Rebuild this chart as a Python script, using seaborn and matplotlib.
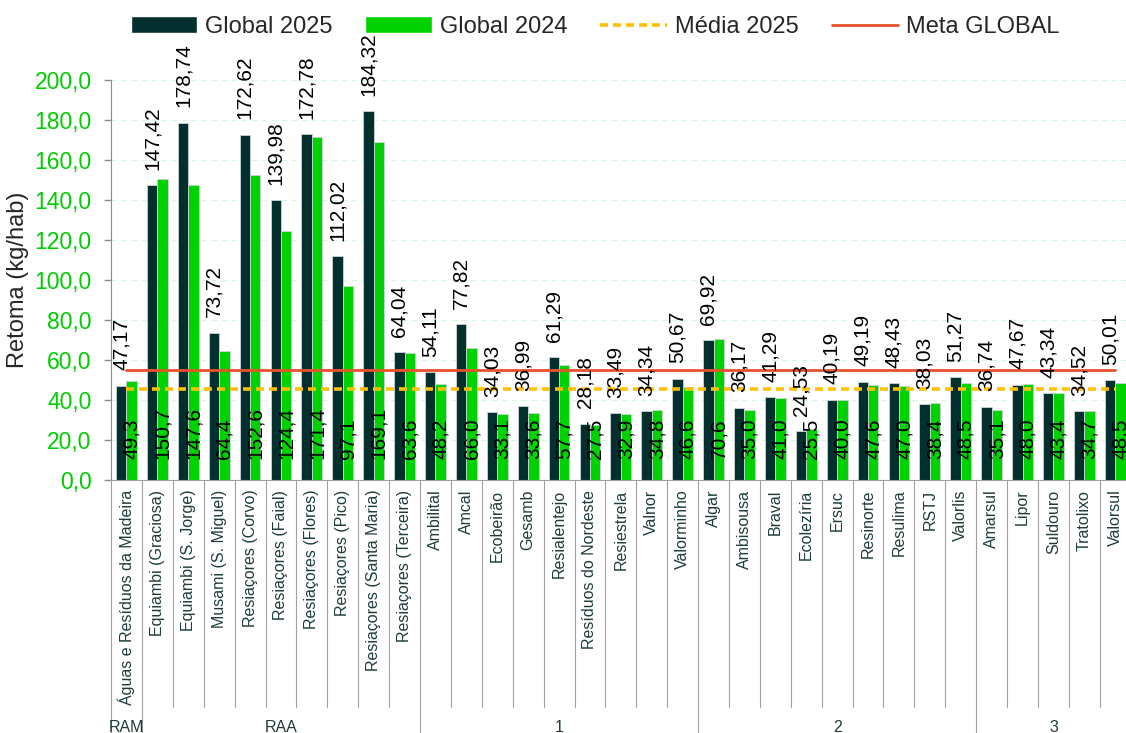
import numpy as np
import pandas as pd
import matplotlib
matplotlib.use('Agg')
import matplotlib.pyplot as plt
import matplotlib.transforms as mtrans
from matplotlib.lines import Line2D
from matplotlib.patches import Patch
import seaborn as sns

# dados
sistemas = ['Águas e Resíduos da Madeira',
            'Equiambi (Graciosa)', 'Equiambi (S. Jorge)', 'Musami (S. Miguel)',
            'Resiaçores (Corvo)', 'Resiaçores (Faial)', 'Resiaçores (Flores)',
            'Resiaçores (Pico)', 'Resiaçores (Santa Maria)', 'Resiaçores (Terceira)',
            'Ambilital', 'Amcal', 'Ecobeirão', 'Gesamb', 'Resialentejo',
            'Resíduos do Nordeste', 'Resiestrela', 'Valnor', 'Valorminho',
            'Algar', 'Ambisousa', 'Braval', 'Ecolezíria', 'Ersuc', 'Resinorte',
            'Resulima', 'RSTJ', 'Valorlis',
            'Amarsul', 'Lipor', 'Suldouro', 'Tratolixo', 'Valorsul']
grupos = ['RAM', 'RAA', '1', '2', '3']
n_por_grupo = [1, 9, 9, 9, 5]
global_2025 = [47.17, 147.42, 178.74, 73.72, 172.62, 139.98, 172.78, 112.02, 184.32, 64.04,
               54.11, 77.82, 34.03, 36.99, 61.29, 28.18, 33.49, 34.34, 50.67,
               69.92, 36.17, 41.29, 24.53, 40.19, 49.19, 48.43, 38.03, 51.27,
               36.74, 47.67, 43.34, 34.52, 50.01]
global_2024 = [49.3, 150.7, 147.6, 64.4, 152.6, 124.4, 171.4, 97.1, 169.1, 63.6,
               48.2, 66.0, 33.1, 33.6, 57.7, 27.5, 32.9, 34.8, 46.6,
               70.6, 35.0, 41.0, 25.5, 40.0, 47.6, 47.0, 38.4, 48.5,
               35.1, 48.0, 43.4, 34.7, 48.5]
media_2025 = 45.5
meta_global = 55.0

escuro = '#03302F'
verde = '#00D200'
amarelo = '#FFC000'
vermelho = '#E8522B'
texto = '#1E3C3C'

sns.set_style('white')
plt.rcParams['font.family'] = ['Liberation Sans', 'DejaVu Sans']

n = len(sistemas)
df = pd.DataFrame({'sistema': sistemas * 2,
                   'ano': ['Global 2025'] * n + ['Global 2024'] * n,
                   'valor': global_2025 + global_2024})

fig = plt.figure(figsize=(11.26, 7.33), dpi=100)
ax = fig.add_axes([111 / 1126, 253 / 733, 1015 / 1126, 400 / 733])

sns.barplot(data=df, x='sistema', y='valor', hue='ano',
            palette=[escuro, verde], saturation=1, width=0.67, gap=0,
            edgecolor='#c9d6d6', linewidth=0.6, legend=False, ax=ax)

def virgula(v, d):
    return ('%.' + str(d) + 'f') % v

c25, c24 = ax.containers[0], ax.containers[1]
ax.bar_label(c25, labels=[virgula(v, 2).replace('.', ',') for v in global_2025],
             padding=11, rotation=90, fontsize=15, color='black')
for p, v in zip(c24.patches, global_2024):
    ax.text(p.get_x() + p.get_width() / 2, 10.5, virgula(v, 1).replace('.', ','),
            rotation=90, ha='center', va='bottom', fontsize=15, color='black')

ax.plot([0, n - 1], [meta_global, meta_global], color=vermelho, lw=2)
ax.plot([0, n - 1], [media_2025, media_2025], color=amarelo, lw=2.6,
        ls=(0, (2.2, 1.4)))

ax.set_xlim(-0.5, -0.5 + 1015 / 30.9)
ax.set_ylim(0, 200)
ax.set_yticks(np.arange(0, 201, 20))
ax.set_yticklabels([virgula(t, 1).replace('.', ',') for t in np.arange(0, 201, 20)])
ax.tick_params(axis='y', colors='#8c8c8c', labelcolor='#00CC00', labelsize=16.5,
               length=5, width=1, pad=9, left=True)
ax.tick_params(axis='x', length=0, pad=7, labelsize=11.5, labelcolor=texto,
               rotation=90)
ax.yaxis.grid(True, color='#d6f5e0', ls=(0, (5, 4)), lw=0.8)
ax.set_axisbelow(True)
ax.set_xlabel('')
ax.set_ylabel('Retoma (kg/hab)', fontsize=17, labelpad=4)
sns.despine(ax=ax, top=True, right=True)
ax.spines['left'].set_color('#8c8c8c')
ax.spines['bottom'].set_color('#a0a0a0')

# separadores e grupos
trans = mtrans.blended_transform_factory(ax.transData, ax.transAxes)
limites = np.cumsum([0] + n_por_grupo) - 0.5
for b in np.arange(-0.5, n - 0.4, 1.0):
    fim = -0.6325 if np.any(np.isclose(b, limites[:-1])) else -0.5675
    ax.plot([b, b], [0, fim], transform=trans, clip_on=False,
            color='#a0a0a0', lw=0.8)
for g, a, b in zip(grupos, limites[:-1], limites[1:]):
    ax.text((a + b) / 2, -0.6175, g, transform=trans, ha='center', va='center',
            fontsize=11.5, color=texto)

handles = [Patch(facecolor=escuro), Patch(facecolor=verde),
           Line2D([], [], color=amarelo, lw=2.6, ls=(0, (2.2, 1.4))),
           Line2D([], [], color=vermelho, lw=2)]
fig.legend(handles, ['Global 2025', 'Global 2024', 'Média 2025', 'Meta GLOBAL'],
           loc='center', bbox_to_anchor=(595 / 1126, 1 - 27 / 733), ncol=4,
           frameon=False, fontsize=17, handlelength=2.8, handletextpad=0.35,
           columnspacing=1.4)

fig.savefig('out.png', dpi=100)
